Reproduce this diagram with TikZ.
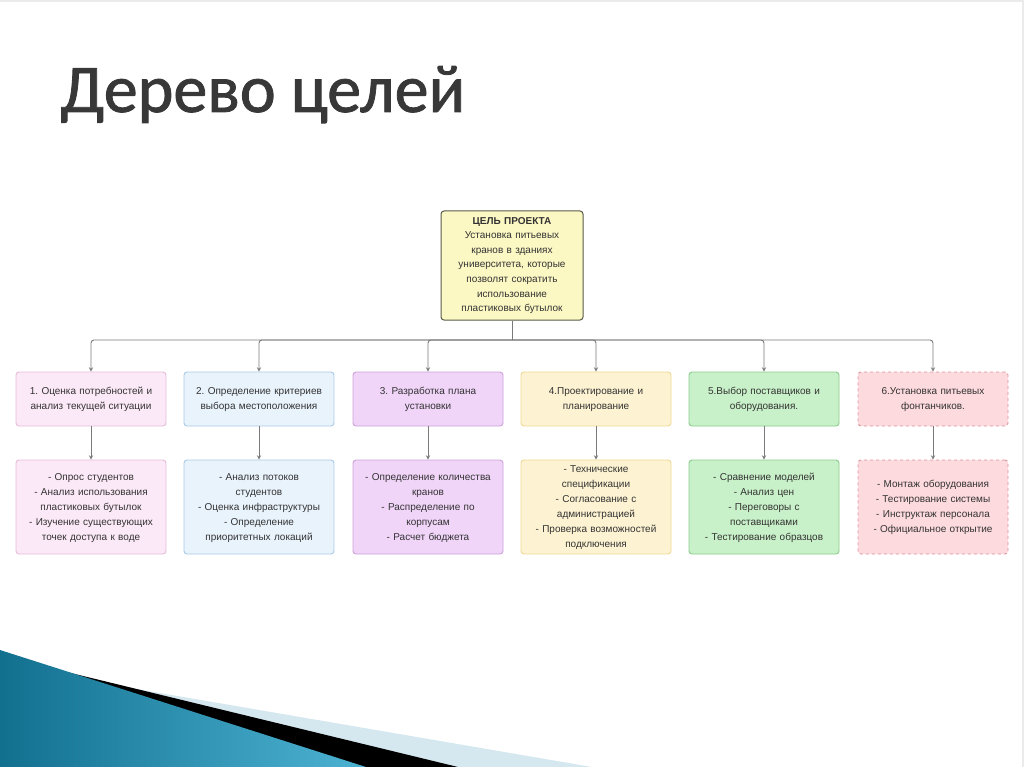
\documentclass[tikz,border=0pt]{standalone}
\usepackage{fontspec}
\setmainfont{Liberation Sans}
\newfontfamily\titlefont[FakeBold=1.2]{Carlito}
\usetikzlibrary{arrows.meta}
\frenchspacing

\definecolor{txt}{HTML}{333333}
\definecolor{wire}{HTML}{7A7A7A}
\definecolor{goalF}{HTML}{FCF8C4}
\definecolor{goalD}{HTML}{5A5A48}
\definecolor{pinkF}{HTML}{FCE9F7}
\definecolor{pinkD}{HTML}{E6BCD9}
\definecolor{blueF}{HTML}{E9F3FC}
\definecolor{blueD}{HTML}{A9CAE6}
\definecolor{lilaF}{HTML}{F1D5F9}
\definecolor{lilaD}{HTML}{CBA1DB}
\definecolor{yellF}{HTML}{FDF3D2}
\definecolor{yellD}{HTML}{EFD793}
\definecolor{grenF}{HTML}{C9F1C9}
\definecolor{grenD}{HTML}{8BCB8B}
\definecolor{redF}{HTML}{FDDADE}
\definecolor{redD}{HTML}{DD939B}
\definecolor{seaA}{HTML}{12708F}
\definecolor{seaB}{HTML}{4DB3D3}
\definecolor{seaC}{HTML}{D6E8EF}

\begin{document}
\begin{tikzpicture}[x=1pt,y=-1pt,>=stealth,
  goal/.style={draw=goalD, fill=goalF, line width=1pt, rounded corners=3pt,
    minimum width=142pt, minimum height=109pt, text width=138pt, align=center,
    inner xsep=2pt, font=\fontsize{10}{14.6}\selectfont, text=txt},
  stage/.style={draw, line width=0.9pt, rounded corners=3pt,
    minimum width=150pt, minimum height=54pt, text width=144pt, align=center,
    inner xsep=3pt, inner ysep=1pt, font=\fontsize{10}{15}\selectfont, text=txt,
    execute at begin node=\strut, execute at end node=\strut},
  tasks/.style={stage, minimum height=94pt},
  wired/.style={draw=wire, line width=0.9pt}]
\useasboundingbox (0,0) rectangle (1024,767);

% slide decoration
\fill[seaC] (90,681) -- (592,767) -- (0,767) -- cycle;
\fill[black] (42,666) -- (458,767) -- (0,767) -- cycle;
\shade[left color=seaA, right color=seaB] (0,650) -- (366,767) -- (0,767) -- cycle;
\draw[black!8, line width=2pt] (0,1) -- (1023,1) -- (1023,767);

\node[anchor=base west, font=\titlefont\fontsize{68}{72}\selectfont, text=black!78] (title) at (57,112) {Дерево целей};

\node[goal] (goal) at (512,265.5) {\textbf{ЦЕЛЬ ПРОЕКТА}\\Установка питьевых\\кранов в зданиях\\университета, которые\\позволят сократить\\использование\\пластиковых бутылок};

\node[stage, fill=pinkF, draw=pinkD] (s1) at (91,399) {1. Оценка потребностей и\\анализ текущей ситуации};
\node[stage, fill=blueF, draw=blueD] (s2) at (259,399) {2. Определение критериев\\выбора местоположения};
\node[stage, fill=lilaF, draw=lilaD] (s3) at (428,399) {3. Разработка плана\\установки};
\node[stage, fill=yellF, draw=yellD] (s4) at (596,399) {4.Проектирование и\\планирование};
\node[stage, fill=grenF, draw=grenD] (s5) at (764,399) {5.Выбор поставщиков и\\оборудования.};
\node[stage, fill=redF, draw=redD, dashed] (s6) at (933,399) {6.Установка питьевых\\фонтанчиков.};

\node[tasks, fill=pinkF, draw=pinkD] (t1) at (91,507) {- Опрос студентов\\- Анализ использования\\пластиковых бутылок\\- Изучение существующих\\точек доступа к воде};
\node[tasks, fill=blueF, draw=blueD] (t2) at (259,507) {- Анализ потоков\\студентов\\- Оценка инфраструктуры\\- Определение\\приоритетных локаций};
\node[tasks, fill=lilaF, draw=lilaD] (t3) at (428,507) {- Определение количества\\кранов\\- Распределение по\\корпусам\\- Расчет бюджета};
\node[tasks, fill=yellF, draw=yellD] (t4) at (596,507) {- Технические\\спецификации\\- Согласование с\\администрацией\\- Проверка возможностей\\подключения};
\node[tasks, fill=grenF, draw=grenD] (t5) at (764,507) {- Сравнение моделей\\- Анализ цен\\- Переговоры с\\поставщиками\\- Тестирование образцов};
\node[tasks, fill=redF, draw=redD, dashed] (t6) at (933,507) {- Монтаж оборудования\\- Тестирование системы\\- Инструктаж персонала\\- Официальное открытие};

\coordinate (bus) at (512,340);
\draw[wired] (goal) -- (bus);
\draw[wired, ->, rounded corners=3pt] (bus) -| (s1);
\draw[wired, ->, rounded corners=3pt] (bus) -| (s2);
\draw[wired, ->, rounded corners=3pt] (bus) -| (s3);
\draw[wired, ->, rounded corners=3pt] (bus) -| (s4);
\draw[wired, ->, rounded corners=3pt] (bus) -| (s5);
\draw[wired, ->, rounded corners=3pt] (bus) -| (s6);
\draw[wired, ->] (s1) -- (t1);
\draw[wired, ->] (s2) -- (t2);
\draw[wired, ->] (s3) -- (t3);
\draw[wired, ->] (s4) -- (t4);
\draw[wired, ->] (s5) -- (t5);
\draw[wired, ->] (s6) -- (t6);
\end{tikzpicture}
\end{document}
